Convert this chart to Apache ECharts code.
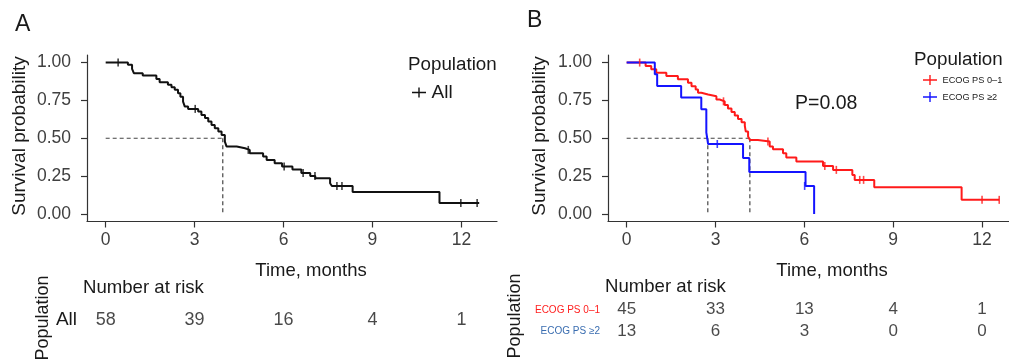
<!DOCTYPE html>
<html>
<head>
<meta charset="utf-8">
<script src="https://cdn.jsdelivr.net/npm/echarts@6/dist/echarts.min.js"></script>
<style>
html,body{margin:0;padding:0;background:#fff;}
#c{width:1009px;height:363px;}
</style>
</head>
<body>
<div id="c"></div>
<script>
// ---------- data ----------
const xTicks = [0, 3, 6, 9, 12];
const yTicks = [0, 0.25, 0.5, 0.75, 1];

// Panel A: all patients
const timesA = [0, 0.75, 0.89, 0.95, 1.25, 1.71, 1.82, 2.10, 2.22, 2.33, 2.44, 2.52, 2.61, 2.67, 2.78, 3.12, 3.23, 3.35, 3.46, 3.57, 3.68, 3.80, 3.91, 4.02, 4.08, 4.42, 4.70, 4.86, 5.31, 5.43, 5.70, 5.95, 6.30, 6.60, 6.90, 7.07, 7.57, 7.63, 8.33, 11.26, 12.60];
const survA  = [1.0, 0.985, 0.958, 0.93, 0.914, 0.892, 0.87, 0.853, 0.837, 0.82, 0.798, 0.775, 0.742, 0.709, 0.694, 0.676, 0.654, 0.633, 0.61, 0.588, 0.566, 0.544, 0.522, 0.478, 0.445, 0.434, 0.423, 0.401, 0.379, 0.357, 0.335, 0.313, 0.293, 0.27, 0.25, 0.236, 0.203, 0.185, 0.145, 0.072, 0.072];
const censorTimesA = [0.42, 3.02, 4.81, 6.02, 6.66, 7.06, 7.80, 7.97, 11.98, 12.53];
const censorSurvA  = [1.0, 0.694, 0.423, 0.313, 0.27, 0.25, 0.185, 0.185, 0.072, 0.072];
const medianA = 3.95;

// Panel B: ECOG PS 0-1
const timesR = [0, 0.64, 0.83, 1.0, 1.34, 1.73, 2.07, 2.19, 2.33, 2.41, 2.52, 2.75, 3.03, 3.14, 3.31, 3.42, 3.54, 3.65, 3.76, 3.88, 3.99, 4.02, 4.10, 4.16, 4.43, 4.83, 4.94, 5.28, 5.39, 5.73, 6.63, 6.97, 7.62, 7.70, 8.36, 11.31, 12.58];
const survR  = [1.0, 0.978, 0.956, 0.933, 0.911, 0.889, 0.867, 0.844, 0.822, 0.80, 0.789, 0.778, 0.756, 0.744, 0.72, 0.697, 0.674, 0.651, 0.628, 0.605, 0.582, 0.545, 0.512, 0.489, 0.478, 0.445, 0.427, 0.401, 0.372, 0.346, 0.317, 0.291, 0.258, 0.225, 0.176, 0.093, 0.093];
const censorTimesR = [0.44, 3.27, 4.77, 6.69, 7.08, 7.87, 8.00, 12.00, 12.58];
const censorSurvR  = [1.0, 0.744, 0.478, 0.317, 0.291, 0.225, 0.225, 0.093, 0.093];

// Panel B: ECOG PS >=2
const timesB = [0, 0.95, 1.03, 1.84, 2.52, 2.69, 2.75, 3.93, 4.14, 6.04, 6.33];
const survB  = [1.0, 0.923, 0.846, 0.769, 0.692, 0.538, 0.462, 0.369, 0.277, 0.185, 0.0];
const censorTimesB = [3.06, 6.01];
const censorSurvB  = [0.462, 0.185];
const medianR = 4.16;
const medianB = 2.74;

// Number at risk
const riskTimes = [0, 3, 6, 9, 12];
const riskAll = [58, 39, 16, 4, 1];
const riskPS01 = [45, 33, 13, 4, 1];
const riskPS2 = [13, 6, 3, 0, 0];

const nameAll = 'All';
const nameR = 'ECOG PS 0–1';
const nameB = 'ECOG PS ≥2';
const pText = 'P=0.08';

// ---------- chart ----------
const FONT = "'Liberation Sans', Arial, Helvetica, sans-serif";
const AX = '#333333';
const TXT = '#404040';
const RED = '#ff1a1a';
const BLUE = '#1414ff';
const ICON = 'path://M0,4.3L14,4.3L14,5.7L0,5.7Z M6.3,0L7.7,0L7.7,10L6.3,10Z';

const pairs = (a, b) => a.map((t, i) => [t, b[i]]);

function mainX(gi, max) {
  return {
    gridIndex: gi, type: 'value', min: -0.63, max: max,
    axisLine: {show: true, onZero: false, lineStyle: {color: AX, width: 1.2}},
    axisTick: {show: true, length: 6, customValues: xTicks, lineStyle: {color: AX, width: 1.2}},
    axisLabel: {customValues: xTicks, margin: 10, fontSize: 17.5, color: TXT, fontFamily: FONT},
    splitLine: {show: false}
  };
}
function mainY(gi) {
  return {
    gridIndex: gi, type: 'value', min: -0.05, max: 1.05,
    axisLine: {show: true, onZero: false, lineStyle: {color: AX, width: 1.2}},
    axisTick: {show: true, length: 6, customValues: yTicks, lineStyle: {color: AX, width: 1.2}},
    axisLabel: {customValues: yTicks, margin: 16, fontSize: 17.5, color: TXT, fontFamily: FONT,
      formatter: v => Number(v).toFixed(2)},
    splitLine: {show: false}
  };
}
function riskX(gi, max) {
  return {gridIndex: gi, type: 'value', min: -0.63, max: max, show: false, splitLine: {show: false}};
}

function km(name, xi, ts, ss, color) {
  return {
    name: name, type: 'line', step: 'end', xAxisIndex: xi, yAxisIndex: xi,
    data: pairs(ts, ss), showSymbol: false, symbol: 'none', silent: true,
    lineStyle: {color: color, width: 2}, itemStyle: {color: color}, z: 5
  };
}
function cens(xi, ts, ss, color) {
  return {
    name: '_c', type: 'scatter', xAxisIndex: xi, yAxisIndex: xi,
    data: pairs(ts, ss), symbol: 'rect', symbolSize: [1.6, 8], silent: true,
    itemStyle: {color: color}, z: 6
  };
}
function dash(xi, pts) {
  return {
    name: '_d', type: 'line', xAxisIndex: xi, yAxisIndex: xi, data: pts,
    showSymbol: false, symbol: 'none', silent: true,
    lineStyle: {color: '#444', width: 1.2, type: [4, 3]}, z: 3
  };
}
function riskSeries(xi, cat, vals, size) {
  return {
    name: '_r', type: 'scatter', xAxisIndex: xi, yAxisIndex: xi,
    data: riskTimes.map((t, i) => [t, cat, vals[i]]),
    symbolSize: 1, itemStyle: {color: 'rgba(0,0,0,0)'}, silent: true,
    label: {show: true, position: 'inside', formatter: p => String(p.data[2]),
      fontSize: size, color: '#1a1a1a', fontFamily: FONT}
  };
}

function txt(text, x, y, size, opts) {
  opts = opts || {};
  return {
    type: 'text', x: x, y: y, rotation: opts.rot || 0, silent: true,
    style: {text: text, x: 0, y: 0, align: opts.align || 'left', verticalAlign: 'middle',
      fontSize: size, fontFamily: FONT, fill: opts.fill || '#1a1a1a'}
  };
}

const chart = echarts.init(document.getElementById('c'), null, {renderer: 'canvas'});
chart.setOption({
  animation: false,
  backgroundColor: '#ffffff',
  textStyle: {fontFamily: FONT},
  grid: [
    {left: 87, top: 55, width: 410, height: 166.5, containLabel: false, outerBoundsMode: 'none'},
    {left: 608, top: 55, width: 409, height: 166.5, containLabel: false, outerBoundsMode: 'none'},
    {left: 87, top: 308, width: 410, height: 24, containLabel: false, outerBoundsMode: 'none'},
    {left: 608, top: 299, width: 409, height: 43, containLabel: false, outerBoundsMode: 'none'}
  ],
  xAxis: [mainX(0, 13.2), mainX(1, 13.18), riskX(2, 13.2), riskX(3, 13.18)],
  yAxis: [
    mainY(0), mainY(1),
    {gridIndex: 2, type: 'category', data: [nameAll],
      axisLine: {show: false}, axisTick: {show: false}, splitLine: {show: false},
      axisLabel: {margin: 10, fontSize: 19, color: '#1a1a1a', fontFamily: FONT}},
    {gridIndex: 3, type: 'category', data: [nameR, nameB], inverse: true,
      axisLine: {show: false}, axisTick: {show: false}, splitLine: {show: false},
      axisLabel: {margin: 8, fontSize: 10, fontFamily: FONT,
        color: (v) => v === nameR ? '#ff2020' : '#3a6db0'}}
  ],
  legend: [
    {data: [nameAll], left: 407, top: 78, itemWidth: 15, itemHeight: 10, icon: ICON,
      selectedMode: false, textStyle: {fontSize: 19, color: '#1a1a1a', fontFamily: FONT}},
    {data: [nameR, nameB], orient: 'vertical', left: 918, top: 70, itemGap: 7,
      itemWidth: 15, itemHeight: 10, icon: ICON, selectedMode: false,
      textStyle: {fontSize: 9.2, color: '#1a1a1a', fontFamily: FONT}}
  ],
  series: [
    dash(0, [[0, 0.5], [medianA, 0.5]]),
    dash(0, [[medianA, 0.5], [medianA, 0]]),
    km(nameAll, 0, timesA, survA, '#111111'),
    cens(0, censorTimesA, censorSurvA, '#111111'),

    dash(1, [[0, 0.5], [medianR, 0.5]]),
    dash(1, [[medianR, 0.5], [medianR, 0]]),
    dash(1, [[medianB, 0.5], [medianB, 0]]),
    km(nameR, 1, timesR, survR, RED),
    cens(1, censorTimesR, censorSurvR, RED),
    km(nameB, 1, timesB, survB, BLUE),
    cens(1, censorTimesB, censorSurvB, BLUE),

    riskSeries(2, nameAll, riskAll, 18),
    riskSeries(3, nameR, riskPS01, 17),
    riskSeries(3, nameB, riskPS2, 17)
  ],
  graphic: [
    txt('A', 15, 25, 23),
    txt('B', 527, 21, 23),
    txt('Survival probability', 19.5, 136, 19, {rot: Math.PI / 2, align: 'center'}),
    txt('Survival probability', 540, 136, 19, {rot: Math.PI / 2, align: 'center'}),
    txt('Time, months', 311, 271, 18.5, {align: 'center'}),
    txt('Time, months', 832, 271, 18.5, {align: 'center'}),
    txt('Number at risk', 83, 288, 18.6),
    txt('Number at risk', 605, 287, 18.6),
    txt('Population', 43, 318, 18, {rot: Math.PI / 2, align: 'center'}),
    txt('Population', 515, 316, 18, {rot: Math.PI / 2, align: 'center'}),
    txt('Population', 408, 65, 18.8),
    txt('Population', 914, 60, 18.8),
    txt(pText, 795, 104, 19.5)
  ]
});
</script>
</body>
</html>
